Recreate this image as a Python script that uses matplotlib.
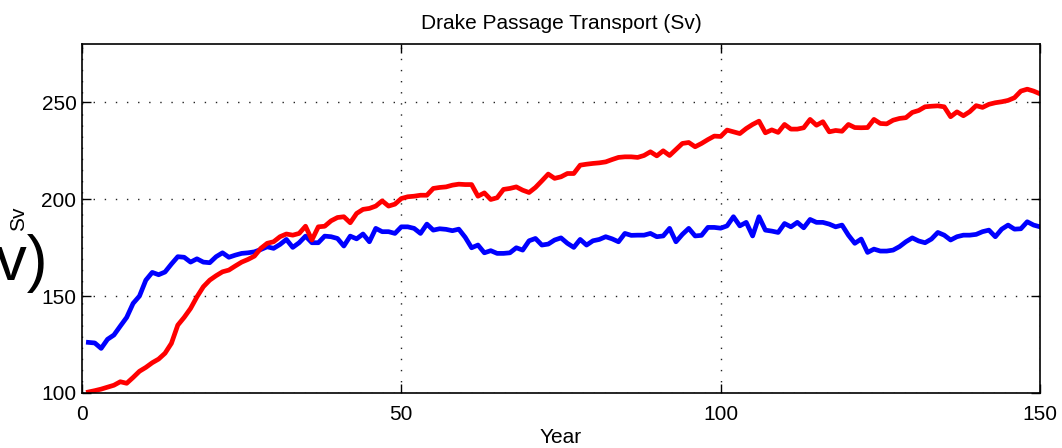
import matplotlib.pyplot as plt
import numpy as np

plt.rcParams['font.family'] = ['Liberation Sans', 'DejaVu Sans']

years = np.arange(1, 151)

# Drake Passage transport, two runs (Sv)
blue_run = [
    126.1, 125.8, 123.0, 127.7, 129.9, 134.5, 139.0, 146.2, 150.0, 158.2,
    162.2, 161.0, 162.4, 166.5, 170.3, 170.0, 167.5, 169.2, 167.5, 167.2,
    170.3, 172.3, 170.0, 171.1, 172.0, 172.3, 172.8, 174.0, 175.4, 174.6,
    176.6, 179.2, 175.1, 177.5, 180.9, 177.5, 177.5, 180.9, 180.6, 179.7,
    175.8, 180.9, 179.5, 182.0, 178.0, 184.9, 183.2, 183.2, 182.3, 185.7,
    185.7, 184.9, 182.3, 187.1, 184.0, 184.7, 184.4, 183.7, 184.5, 180.3,
    174.9, 176.3, 172.3, 173.4, 172.0, 172.0, 172.3, 174.9, 173.7, 178.5,
    179.7, 176.3, 176.8, 178.9, 180.0, 177.2, 175.1, 179.2, 176.3, 178.5,
    179.2, 180.6, 179.5, 178.0, 182.3, 181.3, 181.4, 181.4, 182.3, 180.6,
    181.0, 184.9, 178.0, 181.8, 184.9, 181.0, 181.3, 185.4, 185.4, 185.0,
    186.2, 190.9, 186.2, 188.0, 181.0, 190.9, 184.0, 183.5, 182.8, 187.4,
    185.7, 188.0, 185.2, 189.5, 188.0, 188.0, 187.1, 185.7, 186.6, 181.4,
    177.2, 179.4, 172.5, 174.2, 173.2, 173.2, 173.7, 175.5, 178.0, 180.0,
    178.4, 177.5, 179.4, 182.8, 181.4, 178.9, 180.6, 181.4, 181.4, 181.8,
    183.2, 184.0, 180.6, 184.5, 186.6, 184.5, 184.7, 188.3, 186.6, 185.7,
]

red_run = [
    100.5, 101.2, 102.0, 103.0, 104.0, 105.8, 105.0, 108.0, 111.2, 113.2,
    115.6, 117.5, 120.5, 125.6, 135.0, 139.0, 143.6, 149.6, 154.8, 158.2,
    160.5, 162.5, 163.4, 165.5, 167.5, 168.9, 170.6, 174.6, 177.2, 178.0,
    180.6, 182.0, 181.4, 182.3, 186.0, 178.9, 185.7, 186.0, 188.8, 190.5,
    190.9, 187.8, 192.6, 194.7, 195.2, 196.4, 199.1, 196.4, 197.4, 200.3,
    201.2, 201.5, 202.0, 202.0, 205.5, 206.0, 206.3, 207.2, 207.7, 207.5,
    207.5, 201.5, 203.2, 199.8, 200.7, 205.0, 205.5, 206.3, 204.6, 203.4,
    206.0, 209.4, 212.9, 210.7, 211.5, 213.2, 213.2, 217.5, 218.0, 218.4,
    218.7, 219.2, 220.4, 221.5, 221.8, 221.8, 221.5, 222.5, 224.4, 222.3,
    224.9, 222.5, 225.6, 228.7, 229.2, 227.0, 228.7, 230.7, 232.5, 232.3,
    235.6, 234.7, 233.8, 236.4, 238.5, 240.2, 234.2, 235.7, 234.4, 238.5,
    236.1, 236.1, 236.8, 241.1, 238.1, 239.9, 234.7, 235.4, 235.0, 238.5,
    236.9, 236.8, 236.9, 241.1, 239.0, 238.8, 240.7, 241.6, 242.0, 244.7,
    245.7, 247.6, 247.9, 248.1, 247.6, 242.5, 245.0, 243.0, 245.1, 248.2,
    247.3, 248.9, 249.7, 250.2, 250.9, 252.3, 255.7, 256.7, 255.7, 254.3,
]

xticks = [0, 50, 100, 150]
yticks = [100, 150, 200, 250]

fig = plt.figure(figsize=(10.62, 4.48), dpi=100)
ax = fig.add_axes([0.0772, 0.1228, 0.9021, 0.7790])

ax.plot(years, blue_run, color=(0, 0, 1), lw=3.4, solid_joinstyle='round')
ax.plot(years, red_run, color=(1, 0, 0), lw=3.4, solid_joinstyle='round')

ax.set_xlim(0, 150)
ax.set_ylim(100, 280)
ax.set_xticks(xticks)
ax.set_yticks(yticks)
ax.grid(True, color='#222222', lw=1.0, linestyle=(0, (1, 7)))
ax.tick_params(direction='in', length=6.5, width=1.0, top=True, right=True,
               labelsize=15)
ax.tick_params(axis='x', pad=9)
ax.tick_params(axis='y', pad=4)
for s in ax.spines.values():
    s.set_linewidth(1.2)

ax.set_title('Drake Passage Transport (Sv)', fontsize=15, pad=11)
ax.set_xlabel('Year', fontsize=15, labelpad=2.5)
ax.set_ylabel('Sv', fontsize=15)
ax.yaxis.label.set_va('center')
ax.yaxis.set_label_coords(-0.0658, 0.5)

# oversized units label hanging off the left edge
fig.text(48 / 1062, 1 - 280 / 448, '(Sv)', fontsize=45, ha='right', va='baseline')

fig.savefig('out.png', dpi=100)
